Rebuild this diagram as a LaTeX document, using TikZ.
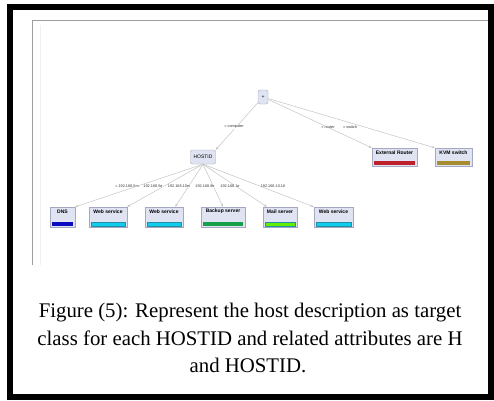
\documentclass[tikz,border=0pt]{standalone}
\usepackage{fontspec}
\setmainfont{Liberation Serif}
\newfontfamily\tinysans{Liberation Sans}
\usetikzlibrary{arrows.meta,calc}
\definecolor{nodefill}{HTML}{DFE3F2}
\definecolor{nodedraw}{HTML}{A4A8C0}
\definecolor{edgegray}{HTML}{C4C4C4}
\definecolor{dnsblue}{HTML}{0A0AC0}
\definecolor{webcyan}{HTML}{10CDEB}
\definecolor{webedge}{HTML}{2090A8}
\definecolor{backupgreen}{HTML}{18A048}
\definecolor{mailgreen}{HTML}{66EE00}
\definecolor{routerred}{HTML}{C0202C}
\definecolor{kvmolive}{HTML}{A88C30}
\tikzset{
  treenode/.style={draw=nodedraw, fill=nodefill, rounded corners=2pt, line width=0.4pt,
    inner sep=0pt, minimum height=14pt, font=\tinysans\fontsize{5}{5.5}\selectfont},
  leaf/.style={draw=nodedraw, fill=nodefill, line width=0.4pt, inner sep=0pt,
    minimum height=20pt},
  leaftext/.style={inner sep=0pt, font=\tinysans\bfseries\fontsize{5}{5.5}\selectfont},
  edgelabel/.style={inner sep=0pt, text=black!80, font=\tinysans\fontsize{3.8}{4}\selectfont},
  conn/.style={draw=edgegray, line width=0.5pt, -{Stealth[length=3.2pt,width=2.6pt,fill=white]}},
  captext/.style={inner sep=0pt, anchor=base, font=\fontsize{20.8}{24}\selectfont}
}
\newcommand{\leafbar}[3]{%
  \node[leaftext] at ($(#1.north)+(0,4.8)$) {#3};
  \fill[#2] ($(#1.south west)+(2,-1)$) rectangle ($(#1.south east)+(-2,-5)$);
}
\newcommand{\leafbaroutlined}[3]{%
  \node[leaftext] at ($(#1.north)+(0,4.8)$) {#3};
  \filldraw[fill=#2, draw=webedge, line width=0.4pt] ($(#1.south west)+(2,-1.5)$) rectangle ($(#1.south east)+(-2,-5.5)$);
}
\begin{document}
\begin{tikzpicture}[x=1pt,y=-1pt]
\useasboundingbox (0,0) rectangle (494,400);
\fill[white] (0,0) rectangle (494,400);
% outer black frame
\draw[line width=6pt, black] (10,7) rectangle (491,397);
% inner screenshot frame
\draw[black!38, line width=1pt] (32,265) -- (32,20) -- (488,20);
\draw[black!6, line width=0.8pt] (40,265) -- (40,25);

% tree nodes
\node[treenode, minimum width=10pt] (root) at (263,97) {+};
\node[treenode, minimum width=25pt] (hostid) at (203,157) {HOSTID};

% leaves
\node[leaf, minimum width=25pt] (dns) at (62.5,217) {};
\node[leaf, minimum width=38pt] (web1) at (108,217) {};
\node[leaf, minimum width=38pt] (web2) at (164,217) {};
\node[leaf, minimum width=44pt] (backup) at (223,217) {};
\node[leaf, minimum width=34pt] (mail) at (280,217) {};
\node[leaf, minimum width=39pt] (web3) at (333.5,217) {};
\node[leaf, minimum width=45pt, minimum height=18pt] (router) at (394.5,157) {};
\node[leaf, minimum width=37pt, minimum height=18pt] (kvm) at (453.5,157) {};

\leafbar{dns}{dnsblue}{DNS}
\leafbaroutlined{web1}{webcyan}{Web service}
\leafbaroutlined{web2}{webcyan}{Web service}
\leafbar{backup}{backupgreen}{Backup server}
\leafbaroutlined{mail}{mailgreen}{Mail server}
\leafbaroutlined{web3}{webcyan}{Web service}
\leafbar{router}{routerred}{External Router}
\leafbar{kvm}{kvmolive}{KVM switch}

% connectors
\draw[conn] (root) -- (hostid.north east);
\draw[conn] (root) -- (router.north west);
\draw[conn] (root) -- (kvm.north west);
\draw[conn] (hostid.south) -- (dns.north east);
\draw[conn] (hostid.south) -- (web1.north east);
\draw[conn] (hostid.south) -- ($(web2.north east)+(-8,0)$);
\draw[conn] (hostid.south) -- (backup.north);
\draw[conn] (hostid.south) -- ($(mail.north west)+(4,0)$);
\draw[conn] (hostid.south) -- (web3.north west);

% edge labels
\node[edgelabel, fill=white] (lcomp) at (234,127) {= computer};
\node[edgelabel, fill=white] (lrout) at (328,127) {= router};
\node[edgelabel, fill=white] (lswit) at (350,127) {= switch};
\node[edgelabel, fill=white] (l1) at (127,186) {= 192.168.5m};
\node[edgelabel, fill=white] (l2) at (153,186) {192.168.5e};
\node[edgelabel, fill=white] (l3) at (179,186) {192.168.10m};
\node[edgelabel, fill=white] (l4) at (205,186) {192.168.9e};
\node[edgelabel, fill=white] (l5) at (230,186) {192.168.1e};
\node[edgelabel, fill=white] (l6) at (273,186) {192.168.10.16};

% caption
\node[captext] (cap1) at (250,317) {Figure (5): Represent the host description as target};
\node[captext] (cap2) at (250,345) {class for each HOSTID and related attributes are H};
\node[captext] (cap3) at (248,372) {and HOSTID.};
\end{tikzpicture}
\end{document}
